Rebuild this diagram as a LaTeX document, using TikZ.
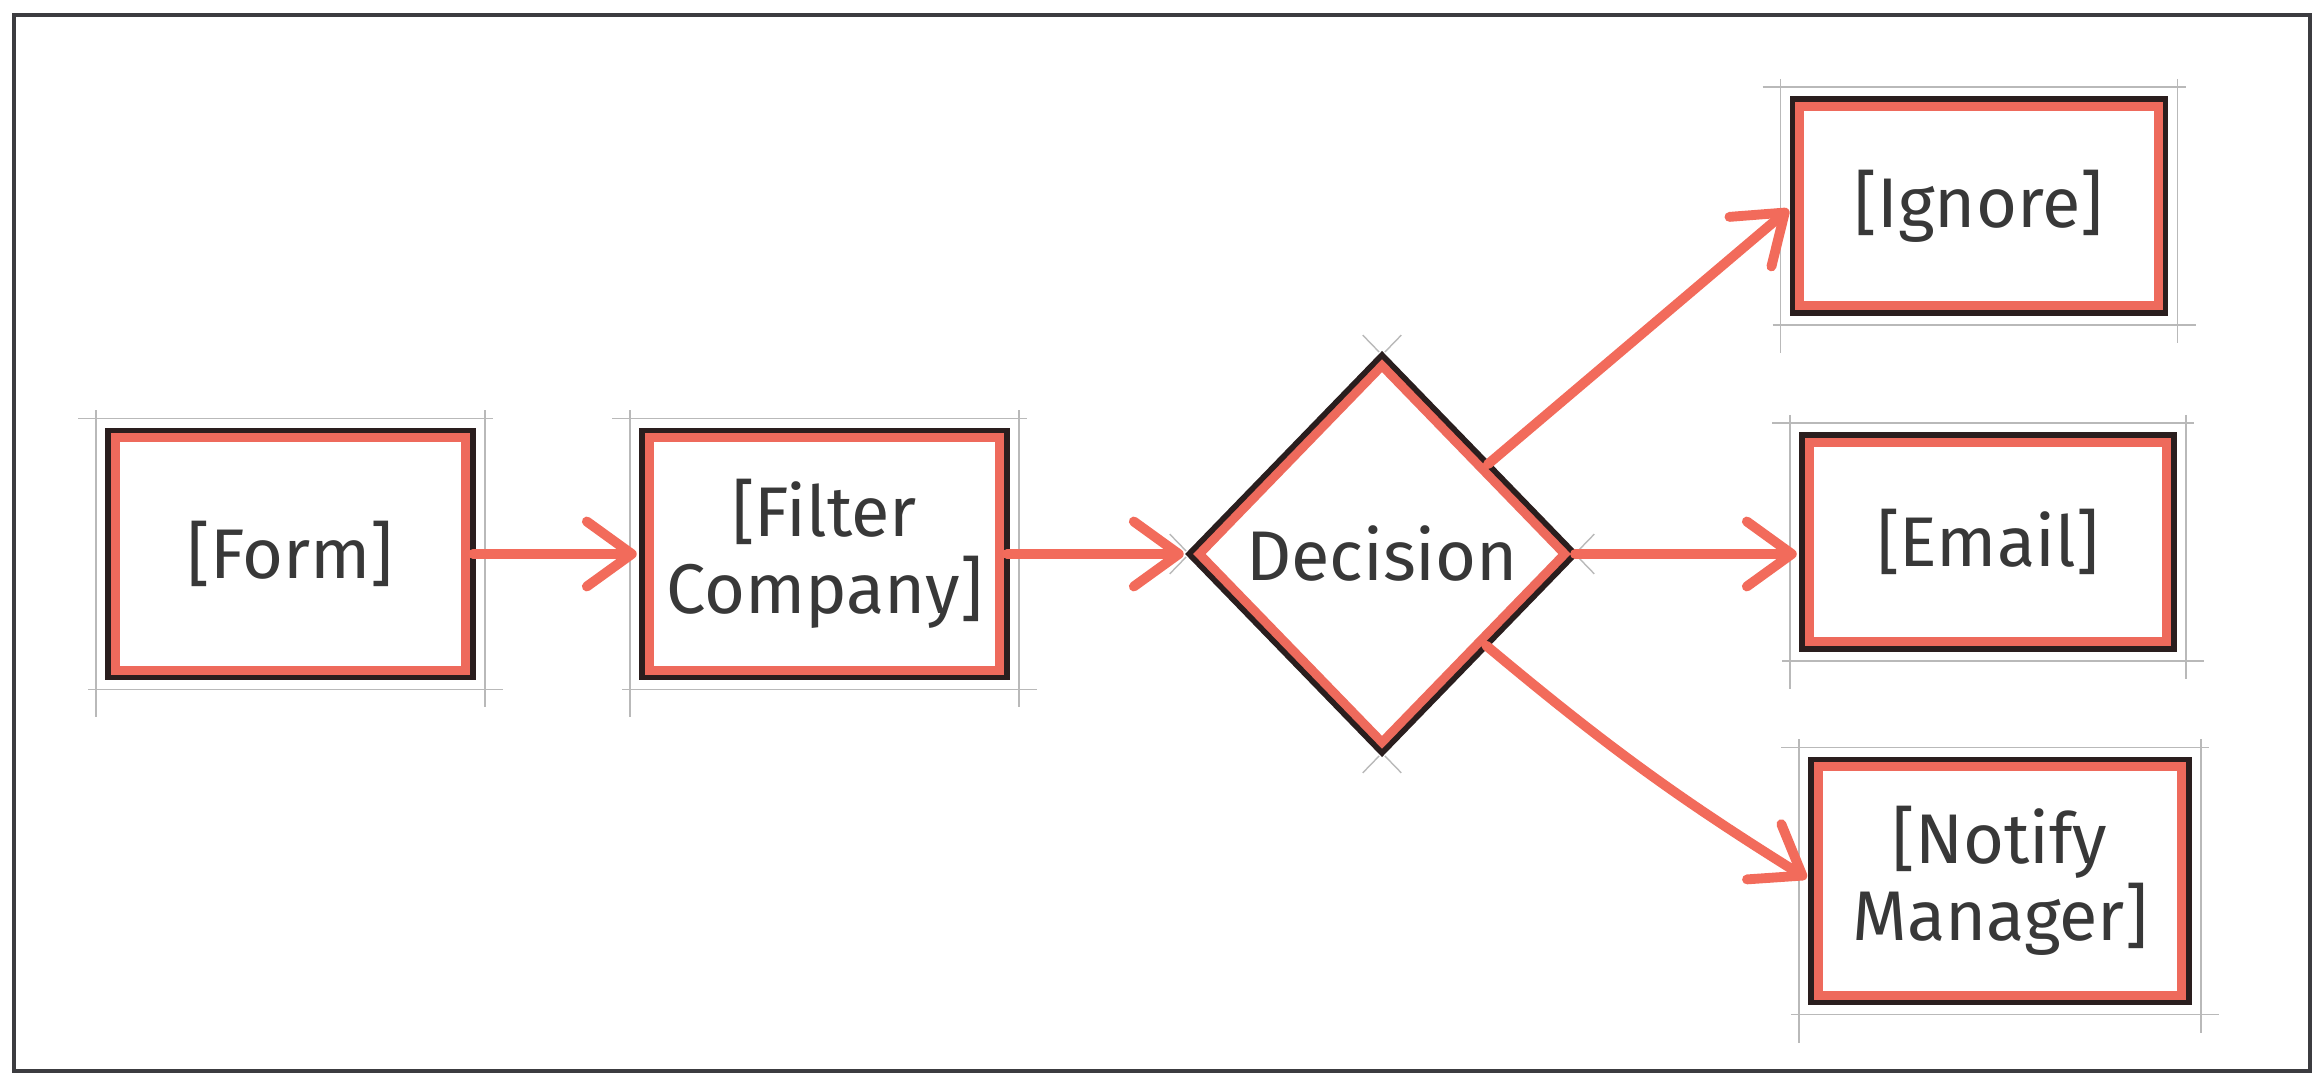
\documentclass[tikz,border=0pt]{standalone}
\usepackage{fontspec}
\setmainfont{Fira Sans}
\usetikzlibrary{arrows.meta}
\usetikzlibrary{shapes.geometric}
\usetikzlibrary{positioning}
\usetikzlibrary{calc}
\definecolor{boxred}{HTML}{EE6A5C}
\definecolor{flowred}{HTML}{F26B5B}
\definecolor{boxline}{HTML}{2A1E1E}
\definecolor{inkgray}{HTML}{383838}
\definecolor{framegray}{HTML}{3C3C40}
\def\hand{\fontsize{20}{22}\selectfont}

\begin{document}
\begin{tikzpicture}[>={Straight Barb[length=4.5mm,width=6.5mm,round]},
		flow/.style={draw=flowred,line width=2.8pt,line cap=round,->,shorten >=1.5pt},
		guide/.style={draw=gray!55,line width=0.4pt},
		frame/.style={draw=framegray,line width=1.2pt},
		flowbox/.style={rectangle,fill=white,draw=boxline,line width=1.6pt,outer sep=0pt,
			path picture={\draw[boxred,line width=6.8pt]
				(path picture bounding box.south west) rectangle (path picture bounding box.north east);},
			minimum width=3.65cm,minimum height=2.47cm,align=center,
			text=inkgray,font=\hand},
		decide/.style={diamond,fill=white,draw=boxline,line width=1.6pt,outer sep=0pt,inner sep=1pt,
			path picture={\draw[boxred,line width=6.8pt]
				(path picture bounding box.north) -- (path picture bounding box.east)
				-- (path picture bounding box.south) -- (path picture bounding box.west) -- cycle;},
			minimum width=3.86cm,minimum height=3.98cm,text=inkgray,font=\hand}]
		\useasboundingbox (0,0) rectangle (23.13,10.74);
		\draw[frame] (0.14,10.59) rectangle (23.10,0.03);
		
		\node[flowbox] (form) at (2.905,5.2) {[Form]};
		\node[flowbox,right=1.69cm of form] (filter) {[Filter\\Company]};
		\node[decide,right=1.82cm of filter] (dec) {Decision};
		\node[flowbox,minimum width=3.73cm,minimum height=2.14cm] (ignore) at (19.79,8.68) {[Ignore]};
		\node[flowbox,minimum width=3.72cm,minimum height=2.14cm] (email) at (19.88,5.32) {[Email]};
		\node[flowbox,minimum width=3.78cm,minimum height=2.43cm] (notify) at (20.0,1.93) {[Notify\\Manager]};
		
		% pencil guide lines past the corners
		\foreach \n in {form,filter,ignore,email,notify} {
			\draw[guide] ([shift={(-3mm,1.2mm)}]\n.north west) -- ([shift={(2mm,1.2mm)}]\n.north east);
			\draw[guide] ([shift={(-2mm,-1.2mm)}]\n.south west) -- ([shift={(3mm,-1.2mm)}]\n.south east);
			\draw[guide] ([shift={(-1.2mm,2mm)}]\n.north west) -- ([shift={(-1.2mm,-4mm)}]\n.south west);
			\draw[guide] ([shift={(1.2mm,2mm)}]\n.north east) -- ([shift={(1.2mm,-3mm)}]\n.south east);
		}
		\foreach \a/\b/\c in {north/east/west,east/south/north,south/west/east,west/north/south} {
			\draw[guide] ($(dec.\a)!-0.1!(dec.\b)$) -- ($(dec.\a)!-0.015!(dec.\b)$);
			\draw[guide] ($(dec.\a)!-0.1!(dec.\c)$) -- ($(dec.\a)!-0.015!(dec.\c)$);
		}
		
		\path
		(form) edge[flow] (filter)
		(filter) edge[flow] (dec)
		(dec) edge[flow] (ignore.west)
		(dec.east) edge[flow] (dec.east -| email.west)
		(dec) edge[flow,bend right=4] (notify.west);
\end{tikzpicture}
\end{document}
